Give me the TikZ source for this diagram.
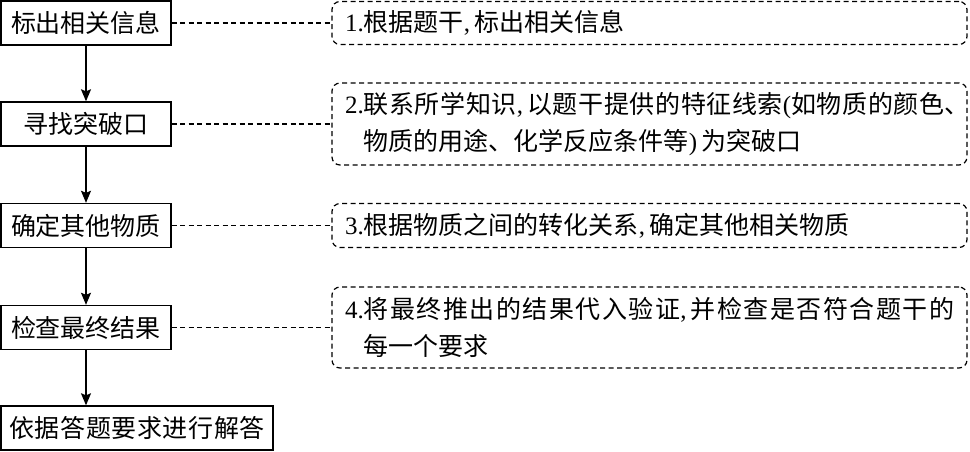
\documentclass[tikz,border=0pt]{standalone}
\usepackage{fontspec}
\setmainfont{Liberation Serif}
\newfontfamily\cjk{Noto Sans CJK SC}
\newfontfamily\cjkwide[LetterSpace=6]{Noto Sans CJK SC}
\newfontfamily\cjkmid[LetterSpace=2.5]{Noto Sans CJK SC}
\usepackage{tikz}
\usetikzlibrary{arrows.meta}
\newcommand{\zh}[1]{{\cjk #1}}
\newcommand{\zhw}[1]{{\cjkwide #1}}
\newcommand{\zhm}[1]{{\cjkmid #1}}

\begin{document}
\begin{tikzpicture}[x=1pt,y=-1pt,
  stepbox/.style={draw,line width=1.4pt,minimum width=170pt,minimum height=44pt,inner sep=0pt,font=\cjk\fontsize{25}{30}\selectfont},
  notebox/.style={draw,dash pattern=on 5pt off 3.5pt,line width=1.2pt,rounded corners=8pt,minimum width=635pt,text width=609pt,inner xsep=13pt,inner ysep=0pt,align=left,font=\fontsize{25}{37}\selectfont},
  flow/.style={line width=1.4pt,-{Stealth[length=12pt,width=10pt,inset=2pt]}},
  link/.style={dash pattern=on 5pt off 3.5pt,line width=1.2pt}]
\useasboundingbox (0,0) rectangle (970,451);

\node[stepbox] (s1) at (86,23) {标出相关信息};
\node[stepbox] (s2) at (86,124) {寻找突破口};
\node[stepbox] (s3) at (86,225.5) {确定其他物质};
\node[stepbox] (s4) at (86,327.5) {检查最终结果};
\node[stepbox,minimum width=272pt,font=\cjkmid\fontsize{25}{30}\selectfont] (s5) at (137,428) {依据答题要求进行解答};

\node[notebox,minimum height=43pt] (n1) at (649.5,23) {1.\zh{根据题干},\,\zh{标出相关信息}};
\node[notebox,minimum height=82pt] (n2) at (649.5,124) {2.\zhm{联系所学知识},\,\zhm{以题干提供的特征线索}(\zhm{如物质的颜色、}\\
  \hphantom{2.}\zh{物质的用途、化学反应条件等})\,\zh{为突破口}};
\node[notebox,minimum height=44pt] (n3) at (649.5,225.5) {3.\zh{根据物质之间的转化关系},\,\zh{确定其他相关物质}};
\node[notebox,minimum height=81pt] (n4) at (649.5,327.5) {4.\zhw{将最终推出的结果代入验证},\,\zhw{并检查是否符合题干的}\\
  \hphantom{4.}\zh{每一个要求}};

\foreach \a/\b in {s1/s2,s2/s3,s3/s4}
  \draw[flow] (\a) -- (\b);
\draw[flow] (s4.south) -- (s4.south |- s5.north);

\foreach \i in {1,...,4}
  \draw[link] (s\i.east) -- (n\i.west);
\end{tikzpicture}
\end{document}
